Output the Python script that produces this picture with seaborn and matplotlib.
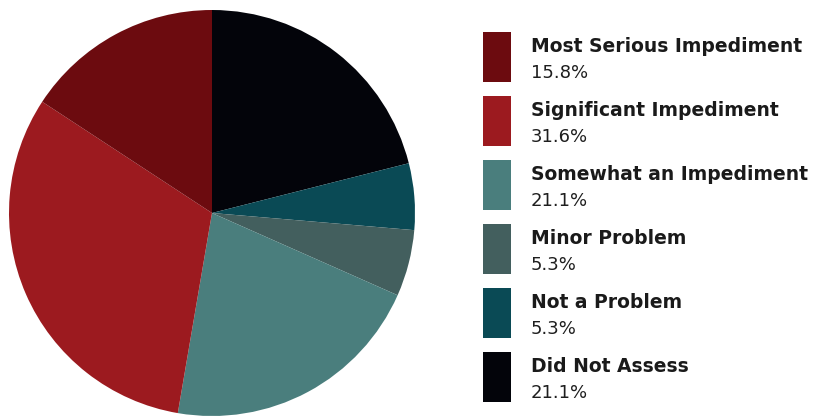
import matplotlib
matplotlib.use("Agg")
import matplotlib.pyplot as plt
from matplotlib.patches import Rectangle
import seaborn as sns

# Survey responses, legend order
categories = ["Most Serious Impediment", "Significant Impediment", "Somewhat an Impediment",
              "Minor Problem", "Not a Problem", "Did Not Assess"]
shares = [15.8, 31.6, 21.1, 5.3, 5.3, 21.1]
share_labels = ["15.8%", "31.6%", "21.1%", "5.3%", "5.3%", "21.1%"]
colors = ["#6c0b0f", "#9c1a1f", "#4a7e7d", "#435f5e", "#0a4a55", "#03040a"]

sns.set_theme(style="white")
plt.rcParams["font.family"] = ["DejaVu Sans"]

W, H = 817, 416
fig = plt.figure(figsize=(W / 100, H / 100), dpi=100)

# Pie: drawn clockwise from 12 o'clock, starting with the last category
cx, cy, r = 212, 213, 203
ax = fig.add_axes([(cx - r) / W, (H - cy - r) / H, 2 * r / W, 2 * r / H])
order = list(range(len(categories)))[::-1]
ax.pie([shares[i] for i in order], colors=[colors[i] for i in order],
       startangle=90, counterclock=False, radius=1.0,
       wedgeprops=dict(linewidth=0))
ax.set_xlim(-1, 1)
ax.set_ylim(-1, 1)
ax.set_aspect("equal")
ax.axis("off")

# Legend panel in pixel coordinates (y measured from the top)
lax = fig.add_axes([0, 0, 1, 1])
lax.set_xlim(0, W)
lax.set_ylim(H, 0)
lax.axis("off")
y0, step = 32, 64
for k, (name, pct, col) in enumerate(zip(categories, share_labels, colors)):
    top = y0 + k * step
    lax.add_patch(Rectangle((483, top), 28, 50, facecolor=col, edgecolor="none"))
    lax.text(531, top + 20, name, fontsize=13.5, fontweight="semibold",
             color="#1a1a1a", va="baseline", ha="left")
    lax.text(531, top + 46, pct, fontsize=13, color="#1e1e1e",
             va="baseline", ha="left")

fig.savefig("out.png", dpi=100, facecolor="white")
